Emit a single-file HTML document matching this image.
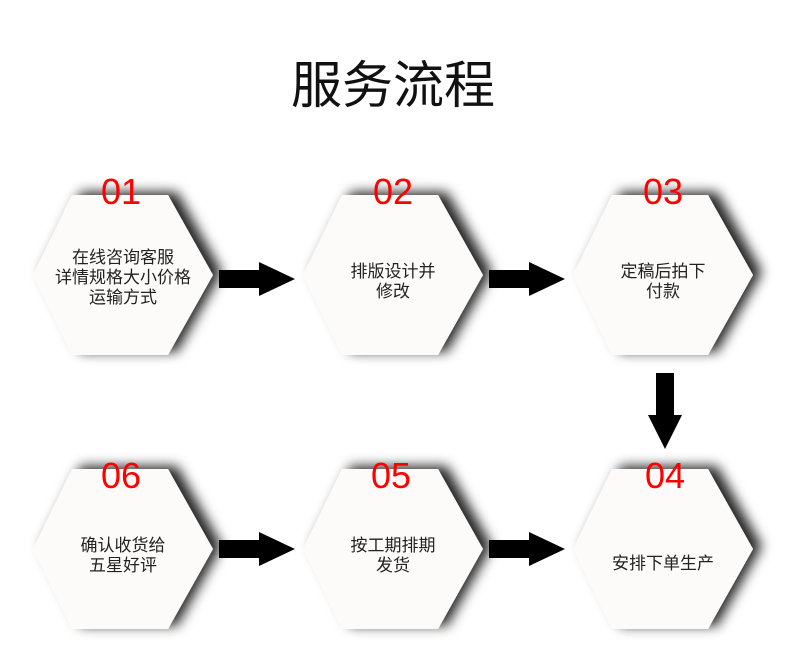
<!DOCTYPE html>
<html><head><meta charset="utf-8"><style>
body{margin:0;background:#fff;}
</style></head><body>
<svg width="790" height="660" xmlns="http://www.w3.org/2000/svg" style="display:block">
<defs>
<filter id="sh" x="-30%" y="-30%" width="160%" height="160%">
<feDropShadow dx="9" dy="-3" stdDeviation="6" flood-color="#000" flood-opacity="0.85"/>
</filter>
<g id="hex"><polygon points="-51,-80 45,-80 90,0 45,80 -51,80 -90,0" fill="#fcfbf9" filter="url(#sh)"/></g>
<g id="ar"><polygon points="0,-9 40,-9 40,-17 76,0 40,17 40,9 0,9" fill="#000"/></g>
</defs>
<text x="393" y="103" font-family="Liberation Sans,'Noto Sans CJK SC',sans-serif" font-size="51" text-anchor="middle" fill="#111">服务流程</text>
<use href="#hex" x="123" y="275"/>
<use href="#hex" x="393" y="275"/>
<use href="#hex" x="663" y="275"/>
<use href="#hex" x="123" y="549"/>
<use href="#hex" x="393" y="549"/>
<use href="#hex" x="663" y="549"/>
<use href="#ar" x="219" y="279"/>
<use href="#ar" x="489" y="279"/>
<use href="#ar" x="219" y="549"/>
<use href="#ar" x="489" y="549"/>
<polygon points="656,373 674,373 674,415 682,415 665,449 648,415 656,415" fill="#000"/>
<g font-family="Liberation Sans,sans-serif" font-size="36" fill="#f00" text-anchor="middle">
<text x="121" y="204">01</text><text x="393" y="204">02</text><text x="663" y="204">03</text>
<text x="121" y="488">06</text><text x="391" y="488">05</text><text x="665" y="488">04</text>
</g>
<g font-family="Liberation Sans,'Noto Sans CJK SC',sans-serif" font-size="17" fill="#222" text-anchor="middle">
<text x="123" y="263">在线咨询客服</text><text x="123" y="283">详情规格大小价格</text><text x="123" y="303">运输方式</text>
<text x="393" y="277">排版设计并</text><text x="393" y="297">修改</text>
<text x="663" y="277">定稿后拍下</text><text x="663" y="297">付款</text>
<text x="123" y="551">确认收货给</text><text x="123" y="571">五星好评</text>
<text x="393" y="551">按工期排期</text><text x="393" y="571">发货</text>
<text x="663" y="569">安排下单生产</text>
</g>
</svg>
</body></html>
